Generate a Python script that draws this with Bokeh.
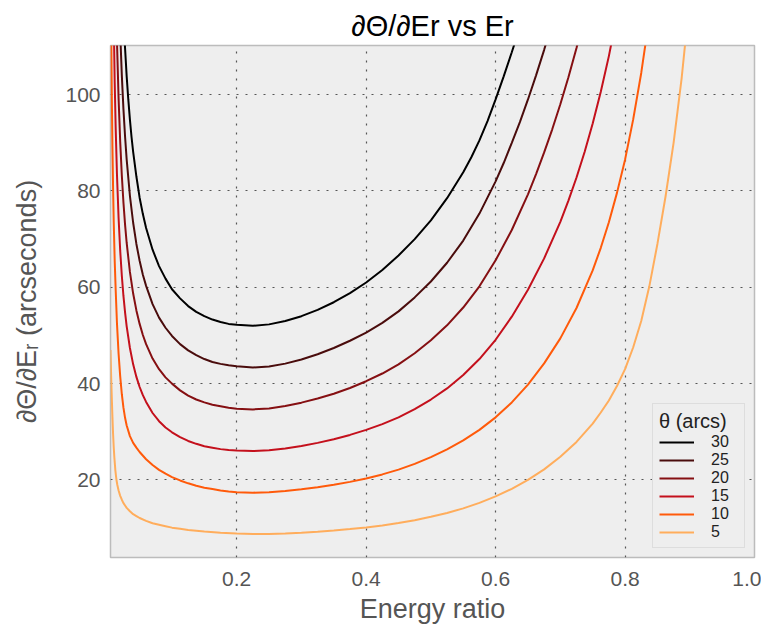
from bokeh.plotting import figure
from bokeh.models import Range1d, FixedTicker, NumeralTickFormatter, Legend, LegendItem, Title
from bokeh.embed import file_html
from bokeh.resources import INLINE

# ---- data ----
THETAS = ["30", "25", "20", "15", "10", "5"]
COLORS = ["#000000", "#4a0c0c", "#850f12", "#c4101c", "#ff5a0a", "#ffad5c"]

x30 = [0.024, 0.027, 0.03, 0.0325, 0.035, 0.0375, 0.04, 0.045, 0.05, 0.055, 0.06, 0.07, 0.08,
       0.09, 0.1, 0.1125, 0.125, 0.1375, 0.15, 0.1625, 0.175, 0.1875, 0.2, 0.225, 0.25, 0.275,
       0.3, 0.325, 0.35, 0.375, 0.4, 0.425, 0.45, 0.475, 0.5, 0.525, 0.55, 0.5625, 0.575,
       0.5875, 0.6, 0.6125, 0.625, 0.6375]
y30 = [119.6, 110.8, 103.8, 99.0, 94.8, 91.2, 88.1, 83.0, 78.6, 75.2, 72.3, 67.8, 64.4,
       61.8, 59.6, 57.7, 56.1, 54.9, 54.0, 53.3, 52.8, 52.4, 52.2, 52.0, 52.3, 53.0,
       54.0, 55.3, 56.9, 58.8, 61.0, 63.6, 66.6, 70.0, 73.9, 78.5, 83.9, 87.0, 90.5,
       94.5, 99.0, 103.8, 108.8, 114.0]

x25 = [0.018, 0.02, 0.0225, 0.025, 0.0275, 0.03, 0.035, 0.04, 0.045, 0.05, 0.055, 0.06, 0.07,
       0.08, 0.09, 0.1, 0.1125, 0.125, 0.1375, 0.15, 0.1625, 0.175, 0.1875, 0.2, 0.225, 0.25,
       0.275, 0.3, 0.325, 0.35, 0.375, 0.4, 0.425, 0.45, 0.475, 0.5, 0.525, 0.55, 0.575, 0.6,
       0.6125, 0.625, 0.6375, 0.65, 0.6625, 0.675, 0.6875]
y25 = [121.5, 112.8, 104.0, 97.0, 91.3, 86.5, 79.0, 73.4, 69.0, 65.5, 62.6, 60.3, 56.5,
       53.7, 51.6, 49.9, 48.2, 46.9, 45.9, 45.1, 44.5, 44.1, 43.8, 43.6, 43.35, 43.55,
       44.15, 45.0, 46.1, 47.4, 48.9, 50.6, 52.6, 55.0, 57.9, 61.2, 65.1, 69.7, 75.3, 82.0,
       85.8, 90.0, 94.3, 99.0, 104.0, 109.3, 115.0]

x20 = [0.0125, 0.015, 0.0175, 0.02, 0.0225, 0.025, 0.0275, 0.03, 0.035, 0.04, 0.045, 0.05,
       0.055, 0.06, 0.07, 0.08, 0.09, 0.1, 0.1125, 0.125, 0.1375, 0.15, 0.1625, 0.175, 0.1875,
       0.2, 0.225, 0.25, 0.275, 0.3, 0.325, 0.35, 0.375, 0.4, 0.425, 0.45, 0.475, 0.5, 0.525,
       0.55, 0.575, 0.6, 0.625, 0.65, 0.6625, 0.675, 0.6875, 0.7, 0.7125, 0.725, 0.7375]
y20 = [128.0, 111.0, 99.2, 90.2, 83.2, 77.6, 73.0, 69.2, 63.2, 58.7, 55.2, 52.4,
       50.1, 48.2, 45.2, 43.0, 41.3, 40.0, 38.6, 37.5, 36.7, 36.1, 35.6, 35.3, 35.0,
       34.8, 34.65, 34.85, 35.35, 36.05, 36.9, 37.9, 39.1, 40.5, 42.1, 44.0, 46.3, 49.0, 52.1,
       55.8, 60.2, 65.6, 71.9, 79.3, 83.5, 88.0, 92.8, 98.0, 103.6, 109.7, 116.3]

x15 = [0.0085, 0.01, 0.0115, 0.013, 0.015, 0.0175, 0.02, 0.0225, 0.025, 0.0275, 0.03, 0.035,
       0.04, 0.045, 0.05, 0.055, 0.06, 0.07, 0.08, 0.09, 0.1, 0.1125, 0.125, 0.1375, 0.15,
       0.1625, 0.175, 0.1875, 0.2, 0.225, 0.25, 0.275, 0.3, 0.325, 0.35, 0.375, 0.4, 0.425,
       0.45, 0.475, 0.5, 0.525, 0.55, 0.575, 0.6, 0.625, 0.65, 0.675, 0.7, 0.7125, 0.725,
       0.7375, 0.75, 0.7625, 0.775, 0.7875]
y15 = [131.6, 115.0, 102.5, 93.1, 83.4, 74.4, 67.6, 62.4, 58.2, 54.8, 51.9, 47.4,
       44.0, 41.4, 39.3, 37.6, 36.2, 33.9, 32.2, 30.9, 29.9, 28.9, 28.1, 27.5, 27.0,
       26.7, 26.4, 26.2, 26.1, 26.0, 26.15, 26.55, 27.05, 27.7, 28.45, 29.35, 30.4, 31.6,
       33.0, 34.7, 36.7, 39.0, 41.8, 45.1, 49.1, 53.9, 59.5, 66.0, 73.6, 78.0, 82.8,
       88.1, 94.0, 100.6, 108.0, 116.5]

x10 = [0.005, 0.006, 0.007, 0.008, 0.009, 0.01, 0.0115, 0.013, 0.015, 0.0175, 0.02, 0.0225,
       0.025, 0.0275, 0.03, 0.035, 0.04, 0.045, 0.05, 0.06, 0.07, 0.08, 0.09, 0.1, 0.1125,
       0.125, 0.1375, 0.15, 0.1625, 0.175, 0.1875, 0.2, 0.225, 0.25, 0.275, 0.3, 0.325, 0.35,
       0.375, 0.4, 0.425, 0.45, 0.475, 0.5, 0.525, 0.55, 0.575, 0.6, 0.625, 0.65, 0.675, 0.7,
       0.725, 0.75, 0.7625, 0.775, 0.7875, 0.8, 0.8125, 0.825, 0.8375]
y10 = [137.0, 115.0, 100.0, 89.0, 80.5, 73.5, 65.5, 59.5, 52.5, 46.2, 41.5, 37.8,
       35.0, 32.9, 31.3, 29.1, 27.7, 26.7, 25.8, 24.3, 23.1, 22.1, 21.3, 20.6, 19.9,
       19.3, 18.8, 18.4, 18.1, 17.8, 17.6, 17.45, 17.35, 17.45, 17.7, 18.05, 18.5, 19.0,
       19.6, 20.3, 21.15, 22.15, 23.35, 24.75, 26.35, 28.2, 30.4, 33.0, 36.1, 39.8, 44.2, 49.4,
       55.7, 63.5, 68.2, 73.5, 79.6, 86.5, 94.8, 104.5, 116.0]

x5 = [0.005, 0.006, 0.007, 0.008, 0.009, 0.01, 0.011, 0.0125, 0.014, 0.0155, 0.0175,
      0.02, 0.0225, 0.025, 0.0275, 0.03, 0.035, 0.04, 0.045, 0.05, 0.06, 0.07, 0.08, 0.09,
      0.1, 0.1125, 0.125, 0.15, 0.175, 0.2, 0.225, 0.25, 0.275, 0.3, 0.325, 0.35, 0.375, 0.4,
      0.425, 0.45, 0.475, 0.5, 0.525, 0.55, 0.575, 0.6, 0.625, 0.65, 0.675, 0.7, 0.725, 0.75,
      0.7625, 0.775, 0.7875, 0.8, 0.8125, 0.825, 0.8375, 0.85, 0.8625, 0.875, 0.8875, 0.9]
y5 = [47.0, 41.5, 37.0, 33.0, 29.5, 26.8, 24.6, 22.0, 20.2, 19.0, 17.8,
      16.7, 15.9, 15.2, 14.7, 14.2, 13.5, 12.9, 12.5, 12.1, 11.5, 11.0, 10.7, 10.4,
      10.1, 9.85, 9.6, 9.3, 9.05, 8.88, 8.78, 8.8, 8.9, 9.05, 9.25, 9.5, 9.8, 10.15,
      10.55, 11.05, 11.65, 12.35, 13.15, 14.1, 15.25, 16.6, 18.15, 20.0, 22.2, 24.8, 27.9, 31.7,
      34.0, 36.5, 39.5, 43.0, 47.5, 53.0, 60.2, 69.0, 78.8, 90.0, 103.5, 120.0]

XTICKS = [0.2, 0.4, 0.6, 0.8, 1.0]
YTICKS = [20, 40, 60, 80, 100]

SERIES = [(x30, y30), (x25, y25), (x20, y20), (x15, y15), (x10, y10), (x5, y5)]
for xs, ys in SERIES:
    assert len(xs) == len(ys), (len(xs), len(ys))

SANS = "Liberation Sans"
GRAY = "#555555"

p = figure(width=761, height=630, output_backend="svg", toolbar_location=None,
           x_range=Range1d(0.005, 1.0), y_range=Range1d(3.9, 110.2), title=None,
           min_border_left=110, min_border_right=7, min_border_top=45, min_border_bottom=73)

p.add_layout(Title(text="∂Θ/∂Er vs Er", text_font=SANS, text_font_size="29px",
                   text_font_style="normal", text_color="black", align="center",
                   standoff=8), "above")

p.background_fill_color = "#eeeeee"
p.border_fill_color = "white"
p.outline_line_color = "#bcbcbc"
p.outline_line_width = 1.5

p.xaxis.ticker = FixedTicker(ticks=XTICKS)
p.yaxis.ticker = FixedTicker(ticks=YTICKS)
p.xaxis.formatter = NumeralTickFormatter(format="0.0")
for ax in (p.xaxis, p.yaxis):
    ax.axis_line_color = None
    ax.major_tick_line_color = None
    ax.minor_tick_line_color = None
    ax.major_tick_out = 0
    ax.major_tick_in = 0
    ax.major_label_text_font = SANS
    ax.major_label_text_font_size = "21px"
    ax.major_label_text_color = GRAY
    ax.axis_label_text_font = SANS
    ax.axis_label_text_font_size = "27px"
    ax.axis_label_text_font_style = "normal"
    ax.axis_label_text_color = GRAY
p.xaxis.major_label_standoff = 14
p.yaxis.major_label_standoff = 10
p.xaxis.axis_label = "Energy ratio"
p.xaxis.axis_label_standoff = 5
p.yaxis.axis_label = "∂Θ/∂Eᵣ (arcseconds)"
p.yaxis.axis_label_standoff = 20

p.grid.grid_line_color = "#555555"
p.grid.grid_line_dash = "2 7"
p.grid.grid_line_width = 1.2

renderers = []
for (xs, ys), c in zip(SERIES, COLORS):
    r = p.line(xs, ys, line_color=c, line_width=2.0)
    renderers.append(r)

legend = Legend(items=[LegendItem(label=t, renderers=[r]) for t, r in zip(THETAS, renderers)],
                location="bottom_right", title="θ (arcs)")
legend.margin = 9
legend.padding = 6
legend.spacing = 0
legend.glyph_width = 35
legend.glyph_height = 18
legend.label_height = 18
legend.label_width = 27
legend.label_standoff = 17
legend.label_text_font = SANS
legend.label_text_font_size = "16px"
legend.label_text_line_height = 1.0
legend.label_text_color = "#222222"
legend.title_text_font = SANS
legend.title_text_font_size = "20px"
legend.title_text_font_style = "normal"
legend.title_text_color = "#222222"
legend.title_standoff = 0
legend.border_line_color = "#cccccc"
legend.border_line_width = 1
legend.background_fill_color = "#eeeeee"
legend.background_fill_alpha = 1.0
p.add_layout(legend)

open("out.html", "w").write(file_html(p, INLINE))
